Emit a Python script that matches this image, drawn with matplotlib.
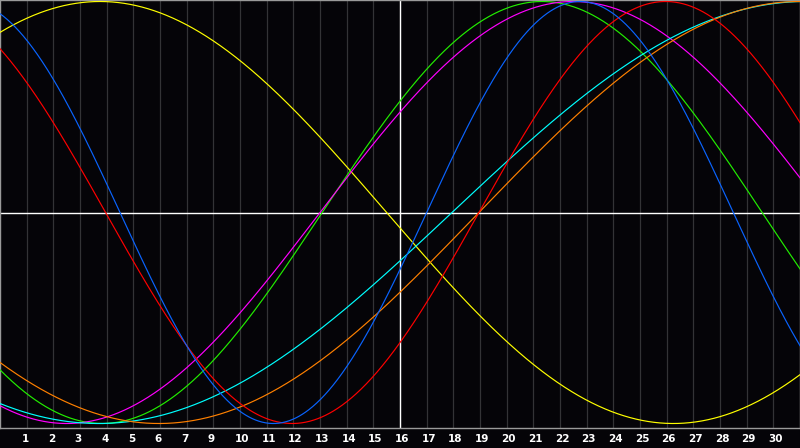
import numpy as np
import matplotlib
matplotlib.use("Agg")
import matplotlib.pyplot as plt
from matplotlib.transforms import blended_transform_factory

# Biorhythm cycles: period (days) and day at which each curve crosses zero upward
names = ["physical", "emotional", "intellectual", "intuitive", "aesthetic", "awareness", "spiritual"]
periods = [23, 28, 33, 38, 43, 48, 53]
zero_days = [16.0, 17.96, 12.08, 12.0, -7.0, 17.96, 16.95]
colors = ["#0a64ff", "#ff0000", "#22ee00", "#ff00ff", "#ffff00", "#ff8000", "#00ffff"]

n_days = 30
day_labels = ["1", "2", "3", "4", "5", "6", "7", "9", "10", "11", "12", "13", "14", "15",
              "16", "17", "18", "19", "20", "21", "22", "23", "24", "25", "26", "27", "28",
              "29", "30"]
today = 15

W, H = 800, 448
plot_h = 428
fig = plt.figure(figsize=(W / 100, H / 100), dpi=100, facecolor="#050408")
ax = fig.add_axes([0, 1 - plot_h / H, 1, plot_h / H])
ax.set_facecolor("#050408")

amp = 211.0
center = 212.5
ax.set_xlim(0, n_days)
ax.set_ylim(-(plot_h - center) / amp, center / amp)

for d in range(1, n_days):
    ax.axvline(d, color="#333336", lw=0.9, zorder=1)
ax.axvline(today, color="white", lw=1.0, zorder=2)
ax.axhline(0, color="white", lw=1.0, zorder=2)

t = np.linspace(0, n_days, 1200)
order = [4, 2, 3, 6, 5, 1, 0]
for i in order:
    y = np.sin(2 * np.pi * (t - zero_days[i]) / periods[i])
    ax.plot(t, y, color=colors[i], lw=0.85, zorder=3)

ax.set_xticks([])
ax.set_yticks([])
for s in ax.spines.values():
    s.set_color("#9a9a9a")
    s.set_linewidth(1.0)

trans = blended_transform_factory(ax.transData, ax.transAxes)
for k, lab in enumerate(day_labels, start=1):
    ax.text(k - 0.2, (plot_h - 439) / plot_h, lab, transform=trans, ha="left", va="center",
            color="white", fontsize=7.5, fontweight="bold", family="DejaVu Sans", clip_on=False)

fig.savefig("out.png", dpi=100, facecolor=fig.get_facecolor())
